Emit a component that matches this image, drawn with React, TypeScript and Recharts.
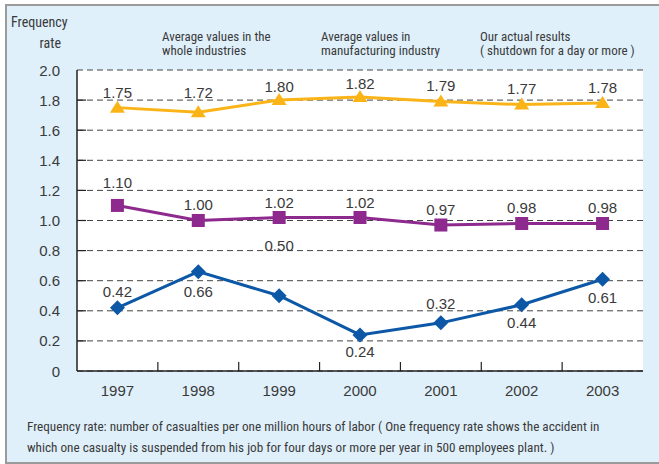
import React from "react";
import { CartesianGrid, LabelList, Line, LineChart, XAxis, YAxis } from "recharts";

// Frequency rate of lost-time accidents, 1997–2003.
const YEARS = ["1997", "1998", "1999", "2000", "2001", "2002", "2003"];
const WHOLE_INDUSTRIES = [1.75, 1.72, 1.8, 1.82, 1.79, 1.77, 1.78];
const MANUFACTURING = [1.1, 1.0, 1.02, 1.02, 0.97, 0.98, 0.98];
const OUR_RESULTS = [0.42, 0.66, 0.5, 0.24, 0.32, 0.44, 0.61];
const Y_TICKS = [0, 0.2, 0.4, 0.6, 0.8, 1.0, 1.2, 1.4, 1.6, 1.8, 2.0];

// label offsets (px, relative to the point) so the numbers sit where the print has them
const WHOLE_DY = [-15, -20, -14, -14, -16, -16, -16];
const MANUF_DY = [-23, -16, -15, -15, -16, -16, -16];
const OURS_DY = [-16, 20, -50, 17, -19, 18, 18];

const C = {
  bg: "#dff0fa",
  frame: "#9a9a9a",
  text: "#3a3a3a",
  axis: "#222222",
  grid: "#444444",
  orange: "#fbb418",
  purple: "#8e2a8e",
  blue: "#0c58a6",
};

const SANS = "'Liberation Sans', Arial, sans-serif";
const NARROW = "'Liberation Sans Narrow', 'Arial Narrow', 'Roboto Condensed', sans-serif";

// each year sits in the middle of its own slot on a 0..N axis
const data = YEARS.map((year, i) => ({
  year,
  slot: i + 0.5,
  whole: WHOLE_INDUSTRIES[i],
  manuf: MANUFACTURING[i],
  ours: OUR_RESULTS[i],
}));
const N = YEARS.length;
// year labels at slot centres, inward tick marks at slot boundaries
const X_TICKS = Array.from({ length: 2 * N - 1 }, (_, k) => (k + 1) / 2);

const Triangle = (p: any) => (
  <polygon
    key={`t${p.index}`}
    points={`${p.cx},${p.cy - 7} ${p.cx + 7.5},${p.cy + 5} ${p.cx - 7.5},${p.cy + 5}`}
    fill={C.orange}
  />
);
const Square = (p: any) => (
  <rect key={`s${p.index}`} x={p.cx - 6.5} y={p.cy - 6.5} width={13} height={13} fill={C.purple} />
);
const Diamond = (p: any) => (
  <polygon
    key={`d${p.index}`}
    points={`${p.cx},${p.cy - 7.5} ${p.cx + 7.5},${p.cy} ${p.cx},${p.cy + 7.5} ${p.cx - 7.5},${p.cy}`}
    fill={C.blue}
  />
);

function valueLabel(dys: number[]) {
  return (p: any) => (
    <text
      x={p.x}
      y={p.y + dys[p.index]}
      textAnchor="middle"
      dominantBaseline="central"
      fill={C.text}
      fontSize={15}
      fontFamily={SANS}
    >
      {Number(p.value).toFixed(2)}
    </text>
  );
}

const XTick = (p: any) => {
  const v = p.payload.value as number;
  if (Number.isInteger(v)) {
    return <line x1={p.x} x2={p.x} y1={p.y} y2={p.y - 9} stroke={C.axis} strokeWidth={1.2} />;
  }
  return (
    <text x={p.x} y={p.y + 19} textAnchor="middle" dominantBaseline="central" fill={C.text} fontSize={15} fontFamily={SANS}>
      {YEARS[Math.floor(v)]}
    </text>
  );
};

const YTick = (p: any) => {
  const v = p.payload.value as number;
  return (
    <g>
      <text x={p.x - 17} y={p.y} textAnchor="end" dominantBaseline="central" fill={C.text} fontSize={15} fontFamily={SANS}>
        {v === 0 ? "0" : v.toFixed(1)}
      </text>
      {v > 0 && v < 2 && <line x1={p.x} x2={p.x + 9} y1={p.y} y2={p.y} stroke={C.axis} strokeWidth={1.2} />}
    </g>
  );
};

const narrowText = (left: number, top: number, lines: string[], extra: React.CSSProperties = {}) => (
  <div
    style={{
      position: "absolute",
      left,
      top,
      fontFamily: NARROW,
      fontSize: 13,
      lineHeight: "13px",
      color: C.text,
      whiteSpace: "nowrap",
      ...extra,
    }}
  >
    {lines.map((l) => (
      <div key={l}>{l}</div>
    ))}
  </div>
);

export default function App() {
  return (
    <div style={{ position: "absolute", left: 0, top: 0, width: 659, height: 464, overflow: "hidden" }}>
      <div
        style={{
          position: "absolute",
          left: 5,
          top: 4,
          width: 670,
          height: 456,
          background: C.bg,
          border: `2px solid ${C.frame}`,
        }}
      />
      <div style={{ position: "absolute", left: 0, top: 0 }}>
        <LineChart width={659} height={464} data={data} margin={{ top: 70, right: 16, bottom: 63, left: 17 }}>
          <CartesianGrid
            xAxisId="main"
            yAxisId="l"
            vertical={false}
            stroke={C.grid}
            strokeDasharray="6 4"
            fill="#ffffff"
            fillOpacity={1}
          />
          <XAxis
            xAxisId="main"
            dataKey="slot"
            type="number"
            domain={[0, N]}
            ticks={X_TICKS}
            interval={0}
            height={30}
            tickSize={0}
            tickMargin={0}
            axisLine={{ stroke: C.axis, strokeWidth: 1.5 }}
            tickLine={false}
            tick={XTick}
          />
          <XAxis
            xAxisId="top"
            orientation="top"
            type="number"
            dataKey="slot"
            domain={[0, N]}
            height={0}
            tick={false}
            axisLine={{ stroke: C.axis, strokeWidth: 1.5 }}
          />
          <YAxis
            yAxisId="l"
            domain={[0, 2]}
            ticks={Y_TICKS}
            width={60}
            interval={0}
            tickSize={0}
            tickMargin={0}
            axisLine={{ stroke: C.axis, strokeWidth: 1.5 }}
            tickLine={false}
            tick={YTick}
          />
          <YAxis yAxisId="r" orientation="right" width={0} domain={[0, 2]} tick={false} axisLine={{ stroke: C.axis, strokeWidth: 1.5 }} />
          <Line
            xAxisId="main"
            yAxisId="l"
            dataKey="whole"
            stroke={C.orange}
            strokeWidth={3}
            dot={Triangle}
            isAnimationActive={false}
          >
            <LabelList dataKey="whole" content={valueLabel(WHOLE_DY)} />
          </Line>
          <Line
            xAxisId="main"
            yAxisId="l"
            dataKey="manuf"
            stroke={C.purple}
            strokeWidth={3}
            dot={Square}
            isAnimationActive={false}
          >
            <LabelList dataKey="manuf" content={valueLabel(MANUF_DY)} />
          </Line>
          <Line
            xAxisId="main"
            yAxisId="l"
            dataKey="ours"
            stroke={C.blue}
            strokeWidth={3}
            dot={Diamond}
            isAnimationActive={false}
          >
            <LabelList dataKey="ours" content={valueLabel(OURS_DY)} />
          </Line>
        </LineChart>
      </div>
      {narrowText(11, 15, ["Frequency"], { fontSize: 14, lineHeight: "14px" })}
      {narrowText(0, 36, ["rate"], { fontSize: 14, lineHeight: "14px", width: 61, textAlign: "right" })}
      {narrowText(162, 30, ["Average values in the", "whole industries"], { lineHeight: "13.5px" })}
      {narrowText(321, 30, ["Average values in", "manufacturing industry"], { lineHeight: "13.5px" })}
      {narrowText(480, 30, ["Our actual results", "( shutdown for a day or more )"], { lineHeight: "13.5px" })}
      {narrowText(27, 416, [
        "Frequency rate: number of casualties per one million hours of labor ( One frequency rate shows the accident in",
        "which one casualty is suspended from his job for four days or more per year in 500 employees plant. )",
      ], { lineHeight: "21px", fontSize: 13.2 })}
    </div>
  );
}
